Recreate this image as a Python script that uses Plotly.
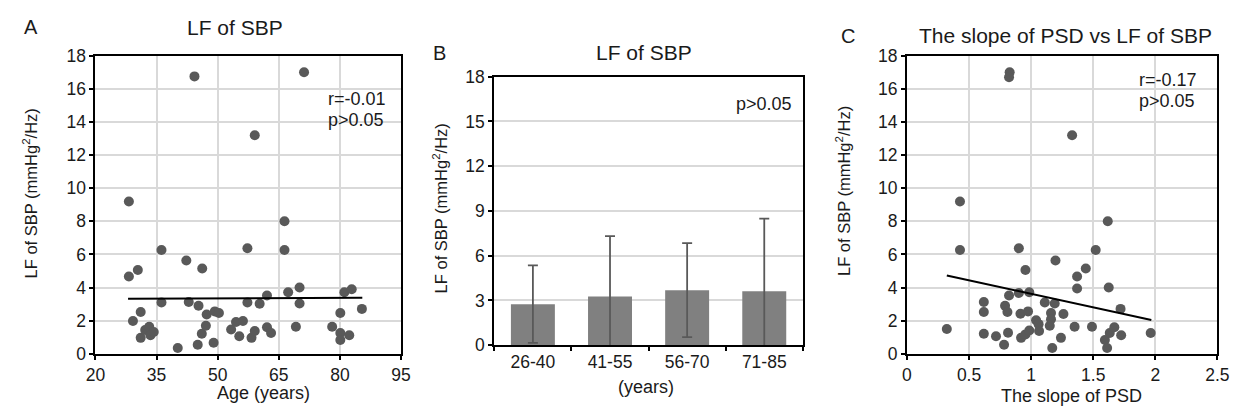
import plotly.graph_objects as go

# ---------------- data ----------------
# Panel A: Age vs LF of SBP
age_a = [28.2, 28.2, 30.4, 29.2, 31.1, 31.1, 32.2, 33.2, 33.5, 34.3,
         36.2, 36.2, 40.2, 42.3, 42.9, 45.3, 45.1, 46.2, 46.1, 47.1,
         47.3, 49.3, 49.0, 50.3, 53.3, 54.5, 56.2, 55.3, 57.3, 57.3,
         58.3, 59.1, 60.3, 62.1, 62.1, 63.1, 66.4, 66.4, 67.3, 69.2,
         70.1, 70.1, 78.1, 80.1, 80.1, 80.1, 81.1, 82.9, 82.3, 85.4,
         44.3, 71.2, 59.1]
lf_a = [9.2, 4.67, 5.06, 1.98, 2.52, 0.96, 1.44, 1.63, 1.12, 1.31,
        6.27, 3.1, 0.35, 5.63, 3.13, 2.9, 0.54, 5.15, 1.21, 1.69,
        2.37, 2.56, 0.67, 2.46, 1.46, 1.92, 1.98, 1.06, 6.37, 3.1,
        0.96, 1.37, 3.02, 3.52, 1.6, 1.25, 8.0, 6.27, 3.71, 1.63,
        4.0, 3.04, 1.63, 2.46, 1.25, 0.83, 3.71, 3.9, 1.12, 2.71,
        16.75, 17.0, 13.2]
trend_a_x = [28.0, 85.5]
trend_a_y = [3.32, 3.38]
stats_a = ["r=-0.01", "p>0.05"]

# Panel B: age groups
groups_b = ["26-40", "41-55", "56-70", "71-85"]
mean_b = [2.75, 3.26, 3.69, 3.62]
sd_b = [2.6, 4.05, 3.15, 4.86]
stats_b = ["p>0.05"]

# Panel C: slope of PSD vs LF of SBP
slope_c = [0.427, 0.427, 0.321, 0.619, 0.619, 0.619, 0.717, 0.782, 0.790, 0.809,
           0.814, 0.822, 0.901, 0.901, 0.914, 0.919, 0.954, 0.954, 0.975, 0.985,
           0.985, 1.04, 1.06, 1.064, 1.11, 1.16, 1.16, 1.15, 1.17, 1.196,
           1.19, 1.24, 1.26, 1.35, 1.37, 1.37, 1.44, 1.49, 1.52, 1.594,
           1.617, 1.625, 1.612, 1.633, 1.67, 1.72, 1.725, 1.963,
           0.827, 0.822, 1.33]
lf_c = [9.2, 6.27, 1.5, 3.13, 2.52, 1.21, 1.06, 0.54, 2.9, 2.52,
        1.27, 3.52, 6.37, 3.67, 2.42, 0.96, 5.06, 1.17, 2.56, 3.71,
        1.4, 2.02, 1.79, 1.37, 3.1, 2.46, 2.08, 1.69, 0.35, 5.63,
        3.04, 0.96, 2.4, 1.63, 4.67, 3.94, 5.15, 1.63, 6.27, 0.83,
        8.0, 4.0, 0.35, 1.25, 1.6, 2.71, 1.12, 1.25,
        17.0, 16.7, 13.2]
trend_c_x = [0.321, 1.968]
trend_c_y = [4.73, 2.04]
stats_c = ["r=-0.17", "p>0.05"]

# ---------------- style ----------------
W, H = 1252, 419
FONT = "Liberation Sans, Arial, sans-serif"
TXT = "#1a1a1a"
DOT = "#595959"
GRID = "#d9d9d9"


def px(x):
    return x / W


def py(y):
    return 1 - y / H


fig = go.Figure()

fig.add_trace(go.Scatter(x=age_a, y=lf_a, mode="markers",
                         marker=dict(size=10, color=DOT),
                         xaxis="x", yaxis="y", showlegend=False))
fig.add_trace(go.Scatter(x=trend_a_x, y=trend_a_y, mode="lines",
                         line=dict(color="black", width=2),
                         xaxis="x", yaxis="y", showlegend=False))

fig.add_trace(go.Bar(x=groups_b, y=mean_b, marker=dict(color="#808080", line=dict(width=0)),
                     width=0.57,
                     error_y=dict(type="data", array=sd_b, visible=True,
                                  color="#595959", thickness=1.8, width=5),
                     xaxis="x2", yaxis="y2", showlegend=False))

fig.add_trace(go.Scatter(x=slope_c, y=lf_c, mode="markers",
                         marker=dict(size=10, color=DOT),
                         xaxis="x3", yaxis="y3", showlegend=False))
fig.add_trace(go.Scatter(x=trend_c_x, y=trend_c_y, mode="lines",
                         line=dict(color="black", width=2),
                         xaxis="x3", yaxis="y3", showlegend=False))

tickfont = dict(family=FONT, size=17.5, color=TXT)
common = dict(showline=True, linecolor="black", linewidth=2, mirror=True,
              ticks="outside", ticklen=4, tickwidth=1.5, tickcolor="black",
              tickfont=tickfont, zeroline=False, gridcolor=GRID, gridwidth=2)

# domains
xa = [px(87), px(398)]
ya = [py(361), py(48)]
xb = [px(493), px(807)]
yb = [py(352), py(70)]
xc = [px(913), px(1229)]
yc = [py(361), py(48)]

fig.update_layout(
    width=W, height=H,
    margin=dict(l=0, r=0, t=0, b=0),
    paper_bgcolor="white", plot_bgcolor="white",
    font=dict(family=FONT, color=TXT),
    bargap=0.43,
    xaxis=dict(domain=xa, anchor="y", range=[20, 95], tick0=20, dtick=15,
               showgrid=True, **common),
    yaxis=dict(domain=ya, anchor="x", range=[0, 18], dtick=2,
               showgrid=True, **common),
    xaxis2=dict(domain=xb, anchor="y2", type="category", tickson="boundaries",
                showgrid=False, **common),
    yaxis2=dict(domain=yb, anchor="x2", range=[0, 18], dtick=3,
                showgrid=True, **common),
    xaxis3=dict(domain=xc, anchor="y3", range=[0, 2.5], dtick=0.5,
                showgrid=True, **common),
    yaxis3=dict(domain=yc, anchor="x3", range=[0, 18], dtick=2,
                showgrid=True, **common),
)

anns = []


def ann(text, x, y, size=17, xanchor="center", angle=0):
    anns.append(dict(text=text, x=px(x), y=py(y), xref="paper", yref="paper",
                     showarrow=False, xanchor=xanchor, yanchor="middle",
                     textangle=angle,
                     font=dict(family=FONT, size=size, color=TXT)))


# panel letters and titles
ann("A", 21, 18, size=20)
ann("LF of SBP", 229, 18, size=21)
ann("B", 437, 45, size=20)
ann("LF of SBP", 645, 45, size=21)
ann("C", 853, 27, size=20)
ann("The slope of PSD vs LF of SBP", 1074, 27, size=21)

# axis titles
ylab = "LF of SBP (mmHg<sup>2</sup>/Hz)"
ann(ylab, 20, 193, size=16.5, angle=-90)
ann(ylab, 438, 208, size=16.5, angle=-90)
ann(ylab, 848, 190, size=16.5, angle=-90)
ann("Age (years)", 258, 402, size=18)
ann("(years)", 647, 396, size=18)
ann("The slope of PSD", 1080, 405, size=18)

# statistics
ann(stats_a[0], 322, 93, size=18, xanchor="left")
ann(stats_a[1], 322, 115, size=18, xanchor="left")
ann(stats_b[0], 737, 99, size=18, xanchor="left")
ann(stats_c[0], 1147, 74, size=18, xanchor="left")
ann(stats_c[1], 1147, 96, size=18, xanchor="left")

fig.update_layout(annotations=anns)

fig.write_html("out.html", config={"displayModeBar": False},
               post_script=("var s=document.documentElement.style;s.margin='0';s.padding='0';"
                            "var b=document.body.style;b.margin='0';b.padding='0';b.overflow='hidden';"))
